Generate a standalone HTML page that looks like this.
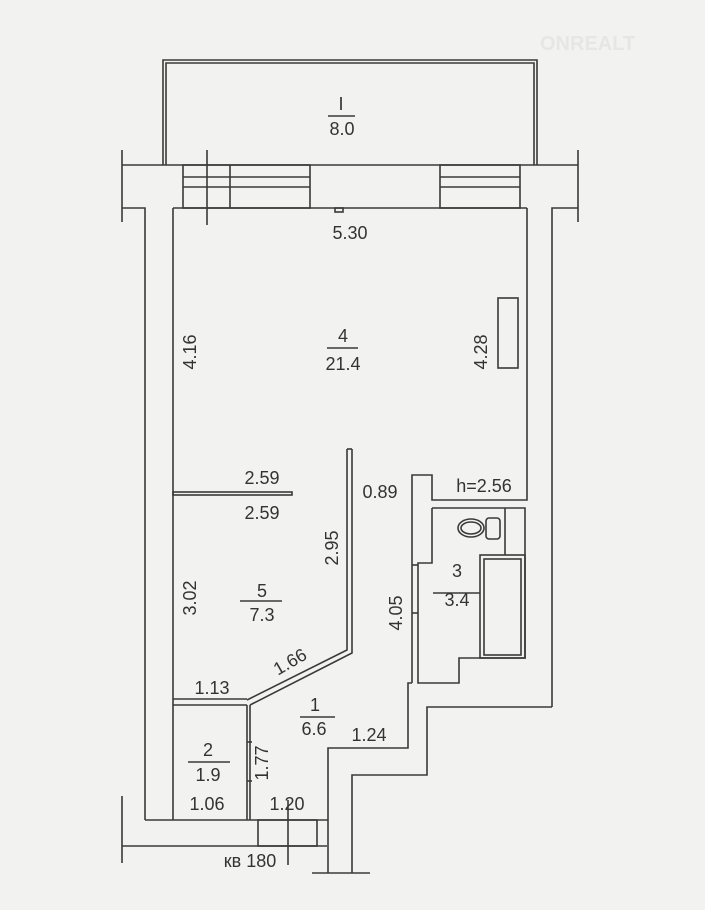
<!DOCTYPE html>
<html><head><meta charset="utf-8"><style>
html,body{margin:0;padding:0;background:#f2f2f0;}
svg{display:block}
text{font-family:"Liberation Sans",sans-serif;font-size:18px;fill:#333;}
</style></head><body>
<svg width="705" height="910" viewBox="0 0 705 910" xmlns="http://www.w3.org/2000/svg">
<rect width="705" height="910" fill="#f2f2f0"/>
<g stroke="#3a3a3a" stroke-width="1.6" fill="none">
<polyline points="163,165 163,60 537,60 537,165"/>
<polyline points="166,165 166,63 534,63 534,165"/>
<line x1="122" y1="165" x2="578" y2="165"/>
<line x1="122" y1="150" x2="122" y2="222"/>
<line x1="578" y1="150" x2="578" y2="222"/>
<polyline points="122,208 145,208 145,820"/>
<line x1="173" y1="208" x2="527" y2="208"/>
<polyline points="578,208 552,208 552,707"/>
<rect x="183" y="165" width="127" height="43"/>
<line x1="230" y1="165" x2="230" y2="208"/>
<line x1="183" y1="177" x2="310" y2="177"/>
<line x1="183" y1="187" x2="310" y2="187"/>
<line x1="207" y1="150" x2="207" y2="225"/>
<rect x="440" y="165" width="80" height="43"/>
<line x1="440" y1="177" x2="520" y2="177"/>
<line x1="440" y1="187" x2="520" y2="187"/>
<rect x="335" y="208" width="8" height="4"/>
<line x1="173" y1="208" x2="173" y2="820"/>
<polyline points="527,208 527,500 432,500 432,475 412,475 412,683"/>
<rect x="498" y="298" width="20" height="70"/>
<rect x="173" y="492" width="119" height="3"/>
<polyline points="347,449 347,650 247,700"/>
<polyline points="352,449 352,653 250,705"/>
<line x1="347" y1="449" x2="352" y2="449"/>
<line x1="173" y1="699" x2="247" y2="699"/>
<line x1="173" y1="705" x2="247" y2="705"/>
<line x1="247" y1="705" x2="247" y2="820"/>
<line x1="250" y1="705" x2="250" y2="820"/>
<line x1="247" y1="742" x2="252" y2="742"/>
<line x1="247" y1="781" x2="252" y2="781"/>
<polyline points="432,508 525,508 525,658 459,658 459,683 418,683 418,563 432,563 432,508"/>
<line x1="412" y1="565" x2="418" y2="565"/>
<line x1="412" y1="613" x2="418" y2="613"/>
<rect x="480" y="555" width="45" height="103"/>
<rect x="484" y="559" width="37" height="96"/>
<line x1="505" y1="508" x2="505" y2="555"/>
<ellipse cx="471" cy="528" rx="13" ry="9"/>
<ellipse cx="471" cy="528" rx="10" ry="6"/>
<rect x="486" y="518" width="14" height="21" rx="3"/>
<polyline points="328,820 328,748 408,748 408,683 412,683"/>
<polyline points="352,873 352,775 427,775 427,707 552,707"/>
<line x1="145" y1="820" x2="328" y2="820"/>
<line x1="122" y1="846" x2="327" y2="846"/>
<line x1="122" y1="796" x2="122" y2="863"/>
<rect x="258" y="820" width="59" height="26"/>
<line x1="328" y1="820" x2="328" y2="873"/>
<line x1="312" y1="873" x2="370" y2="873"/>
<line x1="288" y1="800" x2="288" y2="865"/>
<line x1="328" y1="116" x2="355" y2="116"/>
<line x1="327" y1="348" x2="358" y2="348"/>
<line x1="240" y1="601" x2="282" y2="601"/>
<line x1="433" y1="593" x2="480" y2="593"/>
<line x1="300" y1="717" x2="335" y2="717"/>
<line x1="188" y1="762" x2="230" y2="762"/>
</g>
<g text-anchor="middle">
<text x="341" y="110">I</text>
<text x="342" y="135">8.0</text>
<text x="350" y="239">5.30</text>
<text x="343" y="342">4</text>
<text x="343" y="370">21.4</text>
<text transform="translate(196,352) rotate(-90)">4.16</text>
<text transform="translate(487,352) rotate(-90)">4.28</text>
<text x="262" y="484">2.59</text>
<text x="262" y="519">2.59</text>
<text x="380" y="498">0.89</text>
<text x="484" y="492">h=2.56</text>
<text transform="translate(338,548) rotate(-90)">2.95</text>
<text transform="translate(196,598) rotate(-90)">3.02</text>
<text x="262" y="597">5</text>
<text x="262" y="621">7.3</text>
<text x="457" y="577">3</text>
<text x="457" y="606">3.4</text>
<text transform="translate(402,613) rotate(-90)">4.05</text>
<text transform="translate(293,667) rotate(-30)">1.66</text>
<text x="212" y="694">1.13</text>
<text x="315" y="711">1</text>
<text x="314" y="735">6.6</text>
<text x="369" y="741">1.24</text>
<text x="208" y="756">2</text>
<text x="208" y="781">1.9</text>
<text transform="translate(268,763) rotate(-90)">1.77</text>
<text x="207" y="810">1.06</text>
<text x="287" y="810">1.20</text>
<text x="250" y="867">кв 180</text>
</g>
<text x="540" y="50" style="font-size:20px;fill:#e6e6e6;font-weight:bold">ONREALT</text>
</svg>
</body></html>
